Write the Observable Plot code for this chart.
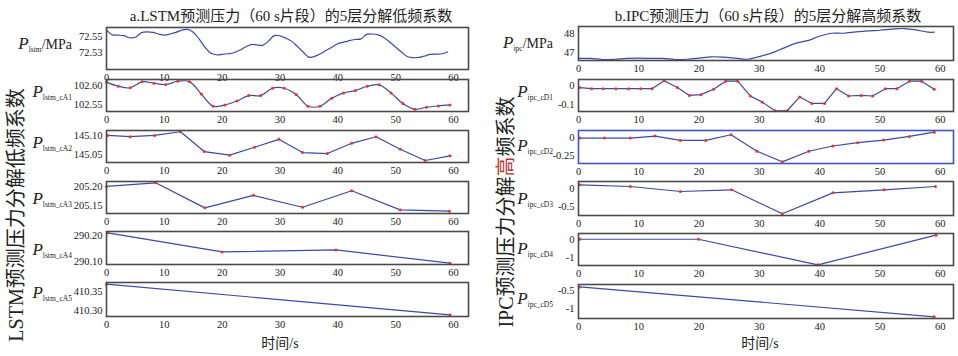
<!DOCTYPE html>
<html><head><meta charset="utf-8">
<script src="https://cdn.jsdelivr.net/npm/d3@7"></script>
<script src="https://cdn.jsdelivr.net/npm/@observablehq/plot@0.6"></script>
<style>
body{margin:0;background:#fff;}
#c{position:relative;width:958px;height:356px;overflow:hidden;font-family:"Liberation Serif","Noto Sans CJK SC",serif;color:#222;}
.t{position:absolute;white-space:nowrap;}
.p{position:absolute;}
.lab{position:absolute;white-space:nowrap;transform:translate(-100%,-50%);font-size:14px;}
.lab i{font-size:17px;}
.lab sub{font-size:7.5px;vertical-align:-3px;}
</style></head><body><div id="c"></div>
<script>
// ---------- data ----------
const titleA = "a.LSTM预测压力（60 s片段）的5层分解低频系数";
const titleB = "b.IPC预测压力（60 s片段）的5层分解高频系数";
const xLabel = "时间/s";
const sideA = "LSTM预测压力分解低频系数";
const sideB = ["IPC预测压力分解", "高", "频系数"];
const xTicks = [0, 10, 20, 30, 40, 50, 60];

const lstmT = [0,1,2,3,4,5,6,7,8,9,10,11,12,13,14,15,16,17,18,19,20,21,22,23,24,25,26,27,28,29,30,31,32,33,34,35,36,37,38,39,40,41,42,43,44,45,46,47,48,49,50,51,52,53,54,55,56,57,58,59];
const lstmV = [72.558,72.552,72.5516,72.551,72.5484,72.549,72.5545,72.5557,72.555,72.553,72.5516,72.553,72.555,72.5578,72.5586,72.5553,72.547,72.537,72.5296,72.5276,72.528,72.5288,72.530,72.533,72.537,72.540,72.5398,72.539,72.5443,72.551,72.5508,72.548,72.5443,72.5378,72.531,72.5247,72.5255,72.5288,72.533,72.537,72.541,72.543,72.545,72.5463,72.547,72.5525,72.553,72.552,72.5484,72.543,72.537,72.531,72.5255,72.524,72.5243,72.526,72.528,72.5284,72.5288,72.531];

const cA1T = [0,2.05,4.1,6.15,8.2,10.25,12.3,14.35,16.4,18.45,20.5,22.55,24.6,26.65,28.7,30.75,32.8,34.85,36.9,38.95,41.0,43.05,45.1,47.15,49.2,51.25,53.3,55.35,57.4,59.4];
const cA1V = [102.6086,102.598,102.594,102.6095,102.606,102.6026,102.611,102.610,102.578,102.5466,102.55,102.560,102.574,102.574,102.593,102.593,102.577,102.5466,102.5466,102.567,102.581,102.587,102.598,102.6017,102.581,102.5534,102.5388,102.544,102.5474,102.55];

const cA2T = [0.2,4.1,8.3,12.8,16.9,21.3,25.6,29.8,33.9,38.2,42.4,46.6,50.8,55.1,59.4];
const cA2V = [145.10,145.0965,145.10,145.1096,145.057,145.0474,145.0684,145.0895,145.0544,145.0518,145.079,145.0965,145.0632,145.0333,145.0456];

const cA3T = [0,8.5,17,25.4,33.9,42.4,50.8,59.3];
const cA3V = [205.20,205.2093,205.145,205.1771,205.1466,205.189,205.1398,205.1364];

const cA4T = [0.2,20,39.7,59.4];
const cA4V = [290.210,290.1359,290.1436,290.0923];

const cA5T = [0,59.4];
const cA5V = [410.3709,410.2891];

const ipcT = [0,2,4,6,8,10,12,14,16,18,20,22,24,26,28,30,32,34,36,38,40,42,44,46,48,50,52,54,56,58,59];
const ipcV = [46.72,46.72,46.667,46.68,46.72,46.737,46.72,46.72,46.667,46.68,46.737,46.807,46.79,46.737,46.68,46.82,47.0,47.26,47.51,47.65,47.88,48.035,48.035,48.105,48.16,48.19,48.245,48.28,48.21,48.088,48.088];

const cD1T = [0.2,2.2,4.1,6.2,8.3,10.3,12.2,14.2,16.4,18.4,20.3,22.4,24.4,26.4,28.5,30.5,32.6,34.6,36.7,38.7,40.8,42.8,44.8,46.9,48.8,50.9,52.8,54.9,56.9,59.0];
const cD1V = [-0.012,-0.018,-0.018,-0.018,-0.018,-0.018,-0.018,0.023,-0.012,-0.053,-0.049,-0.021,0.021,0.021,-0.056,-0.088,-0.133,-0.133,-0.061,-0.095,-0.095,-0.018,-0.056,-0.053,-0.056,-0.018,-0.018,0.021,0.021,-0.021];

const cD2T = [0.2,4.3,8.6,12.7,16.9,21.1,25.3,29.6,33.8,38.2,42.2,46.3,50.6,54.9,59.0];
const cD2V = [-0.0047,-0.0047,-0.0047,0.0236,-0.0377,-0.0377,0.0425,-0.1934,-0.344,-0.1934,-0.118,-0.0708,-0.033,0.019,0.080];

const cD3T = [0.2,8.6,16.9,25.4,33.8,42.2,50.7,59.2];
const cD3V = [0.113,0.066,-0.075,-0.028,-0.707,-0.113,-0.028,0.066];

const cD4T = [0.2,19.9,39.7,59.3];
const cD4V = [0,0,-1.382,0.218];

const cD5T = [0.2,59.0];
const cD5V = [-0.406,-1.236];

// y-axis label parts: [subscript, suffix]
const labels = {
  L0:["lstm","/MPa"], L1:["lstm_cA1",""], L2:["lstm_cA2",""], L3:["lstm_cA3",""], L4:["lstm_cA4",""], L5:["lstm_cA5",""],
  R0:["ipc","/MPa"], R1:["ipc_cD1",""], R2:["ipc_cD2",""], R3:["ipc_cD3",""], R4:["ipc_cD4",""], R5:["ipc_cD5",""]
};
const yTicks = {
  L0:[72.55,72.53], L1:[102.60,102.55], L2:[145.10,145.05], L3:[205.20,205.15], L4:[290.20,290.10], L5:[410.35,410.30],
  R0:[48,47], R1:[0,-0.1], R2:[0,-0.25], R3:[0,-0.5], R4:[0,-1], R5:[-0.5,-1]
};

// ---------- layout ----------
const LINE = "#3a4aa8", DOT = "#f03030";
const colL = {left:106, right:468, xmax:62.6, fmt:d3.format(".2f")};
const colR = {left:578, right:953, xmax:62.2, fmt:d => String(d)};
const panels = [
  {id:"L0", col:colL, top:27, bottom:69, T:lstmT, V:lstmV, y:[72.5095,72.561], smooth:true, dots:false, lab:[72,44]},
  {id:"L1", col:colL, top:79, bottom:111, T:cA1T, V:cA1V, y:[102.533,102.6155], smooth:true, dots:true, lab:[72,92]},
  {id:"L2", col:colL, top:130, bottom:162, T:cA2T, V:cA2V, y:[145.028,145.113], dots:true, lab:[72,143]},
  {id:"L3", col:colL, top:181, bottom:213, T:cA3T, V:cA3V, y:[205.1305,205.2127], dots:true, lab:[72,199]},
  {id:"L4", col:colL, top:231, bottom:264, T:cA4T, V:cA4V, y:[290.087,290.2154], dots:true, lab:[72,250]},
  {id:"L5", col:colL, top:282, bottom:316, T:cA5T, V:cA5V, y:[410.2845,410.3755], dots:true, lab:[72,293]},
  {id:"R0", col:colR, top:26, bottom:60, T:ipcT, V:ipcV, y:[46.614,48.386], smooth:true, dots:false, lab:[553,43]},
  {id:"R1", col:colR, top:79, bottom:111, T:cD1T, V:cD1V, y:[-0.1368,0.0298], dots:true, lab:[553,92]},
  {id:"R2", col:colR, top:130, bottom:163, T:cD2T, V:cD2V, y:[-0.368,0.1038], dots:true, lab:[553,146], frame:"#3f55c0"},
  {id:"R3", col:colR, top:181, bottom:215, T:cD3T, V:cD3V, y:[-0.755,0.2075], dots:true, lab:[553,199]},
  {id:"R4", col:colR, top:233, bottom:265, T:cD4T, V:cD4V, y:[-1.418,0.309], dots:true, lab:[553,249]},
  {id:"R5", col:colR, top:284, bottom:318, T:cD5T, V:cD5V, y:[-1.283,-0.340], dots:true, lab:[553,299]}
];

const c = document.getElementById("c");
function addText(html, x, y, css){
  const d = document.createElement("div");
  d.className = "t"; d.innerHTML = html;
  d.style.left = x+"px"; d.style.top = y+"px";
  Object.assign(d.style, css||{});
  c.appendChild(d); return d;
}

const mL = 50, mR = 4, mT = 3, mB = 18;
for (const p of panels) {
  const data = p.T.map((t,i) => ({t, v:p.V[i]}));
  const w = p.col.right - p.col.left, h = p.bottom - p.top;
  const marks = [
    Plot.line(data, {x:"t", y:"v", stroke:LINE, strokeWidth:1.2, curve: p.smooth ? "catmull-rom" : "linear"}),
  ];
  if (p.dots) marks.push(Plot.dot(data, {x:"t", y:"v", r:1.5, fill:DOT, stroke:"none"}));
  marks.push(Plot.frame({stroke: p.frame || "#4a4a4a", strokeWidth:1.6}));
  marks.push(Plot.axisX({ticks:xTicks, tickSize:0, tickPadding:4, tickFormat:d=>String(d), label:null}));
  marks.push(Plot.axisY({ticks:yTicks[p.id], tickSize:0, tickPadding:4, tickFormat:p.col.fmt, label:null}));
  const chart = Plot.plot({
    width: w + mL + mR, height: h + mT + mB,
    marginLeft: mL, marginRight: mR, marginTop: mT, marginBottom: mB,
    x: {domain:[0, p.col.xmax]},
    y: {domain:p.y},
    style: {fontFamily:"Liberation Serif, serif", fontSize:"10.5px", color:"#222", background:"transparent", overflow:"visible"},
    marks
  });
  const holder = document.createElement("div");
  holder.className = "p";
  holder.style.left = (p.col.left - mL) + "px";
  holder.style.top = (p.top - mT) + "px";
  holder.appendChild(chart);
  c.appendChild(holder);
  const [sub, suf] = labels[p.id];
  const lab = document.createElement("div");
  lab.className = "lab";
  lab.innerHTML = `<i>P</i><sub>${sub}</sub>${suf}`;
  lab.style.left = p.lab[0]+"px"; lab.style.top = p.lab[1]+"px";
  c.appendChild(lab);
}

// titles
addText(titleA, 291, 14, {transform:"translate(-50%,-50%)", fontSize:"15px"});
addText(titleB, 768, 14, {transform:"translate(-50%,-50%)", fontSize:"15px"});
addText(xLabel, 280, 342, {transform:"translate(-50%,-50%)", fontSize:"14px"});
addText(xLabel, 760, 342, {transform:"translate(-50%,-50%)", fontSize:"14px"});
addText(sideA, 14, 215, {transform:"translate(-50%,-50%) rotate(-90deg)", fontSize:"20px"});
addText(`${sideB[0]}<span style="color:#b03a3a">${sideB[1]}</span>${sideB[2]}`, 504, 212, {transform:"translate(-50%,-50%) rotate(-90deg)", fontSize:"20px"});
</script></body></html>
